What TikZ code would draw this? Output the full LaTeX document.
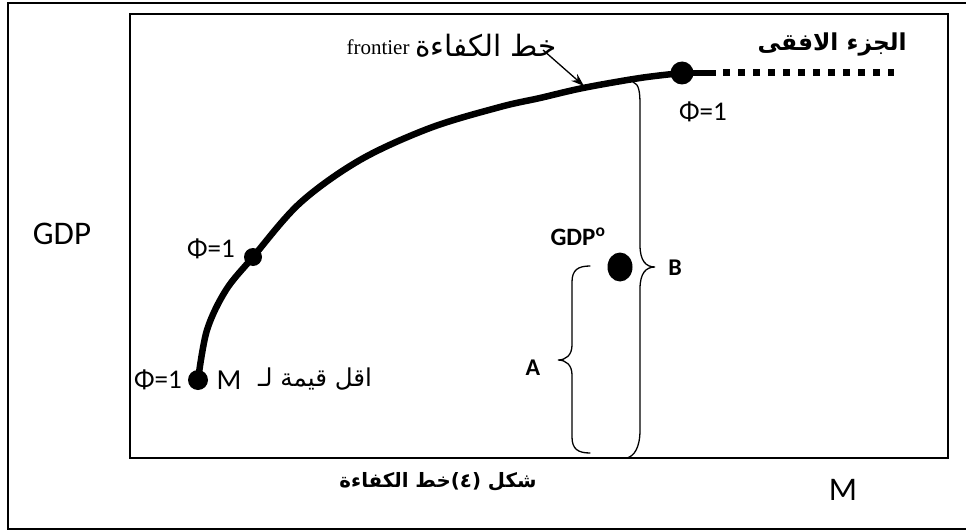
\documentclass[tikz,border=0pt]{standalone}
\usepackage{graphicx}
\usepackage{fontspec}
\setmainfont{Carlito}
\newfontfamily\seriffont{Liberation Serif}
\newfontfamily\arabicfont[Script=Arabic]{DejaVu Sans}
\TeXXeTstate=1
\usetikzlibrary{arrows.meta,shapes.geometric}
\tikzset{
  dot/.style={circle,fill=black,inner sep=0pt},
  lbl/.style={inner sep=0pt,anchor=center},
  bracel/.style={line width=1.3pt,line cap=round},
  frontierline/.style={line width=6.5pt,line cap=round},
}
\begin{document}
\begin{tikzpicture}[x=1pt,y=-1pt]
\useasboundingbox (0,0) rectangle (966,532);
% frames
\draw[line width=2.2pt] (8,3) rectangle (985,529);
\draw[line width=2pt] (130,14) rectangle (948,458);
% dots
\node[dot,minimum size=20pt] (d1) at (198,380) {};
\node[dot,minimum size=18pt] (d2) at (253,257) {};
\node[dot,minimum size=23pt] (d3) at (682,73) {};
\node[ellipse,fill=black,inner sep=0pt,minimum width=25pt,minimum height=29pt] (g0) at (620,267) {};
% frontier curve
\draw[frontierline] plot[smooth,tension=0.55] coordinates {(d1.center) (207,330) (226,290) (d2.center) (300,203) (360,160) (430,128) (500,107) (540,98) (583,88) (640,78) (d3.center)};
% horizontal part
\coordinate (hs) at (716,73);
\coordinate (ds) at (723,73);
\coordinate (de) at (894,73);
\draw[line width=6pt] (d3.center) -- (hs);
\draw[line width=7pt,dash pattern=on 7pt off 8pt] (ds) -- (de);
% labels
\node[lbl] (gdp) at (62,234) {\fontsize{33}{36}\selectfont GDP};
\node[lbl] (mx) at (843,490) {\fontsize{33}{36}\selectfont M};
\node[lbl] (p1) at (158,380) {\fontsize{27}{30}\selectfont Φ=1};
\node[lbl] (p2) at (211,249) {\fontsize{27}{30}\selectfont Φ=1};
\node[lbl] (p3) at (703,112) {\fontsize{27}{30}\selectfont Φ=1};
\node[lbl] (mmin) at (229,380) {\fontsize{29}{32}\selectfont M};
\node[lbl] (amin) at (315,379) {\resizebox{114pt}{!}{\fontsize{26}{30}\selectfont\arabicfont\beginR اقل قيمة لـ\endR}};
\node[lbl] (hz) at (832,44) {\resizebox{149pt}{!}{\fontsize{25}{28}\selectfont\arabicfont\bfseries\beginR الجزء الافقى\endR}};
\node[lbl] (fr) at (378,47) {\fontsize{21}{24}\selectfont\seriffont frontier};
\node[lbl] (fra) at (486,46) {\resizebox{142pt}{!}{\fontsize{30}{34}\selectfont\arabicfont\beginR خط الكفاءة\endR}};
\node[lbl] (cap) at (438,482) {\resizebox{197pt}{!}{\fontsize{21}{24}\selectfont\arabicfont\bfseries\beginR شكل (٤)خط الكفاءة\endR}};
\node[lbl] (gl) at (578,237) {\fontsize{25}{28}\selectfont\bfseries GDP\textsuperscript{o}};
\node[lbl] (la) at (533,368) {\fontsize{24}{26}\selectfont\bfseries A};
\node[lbl] (lb) at (675,268) {\fontsize{24}{26}\selectfont\bfseries B};
% arrow
\coordinate (as) at (543,50);
\coordinate (ae) at (584,86);
\draw[line width=1.3pt,-{Stealth[length=13pt,width=9pt]}] (as) -- (ae);
% brace B
\coordinate (Btop) at (633,82);
\coordinate (Btip) at (655,267);
\coordinate (Bbot) at (627,458);
\draw[bracel] (Btop) .. controls (639,84) and (640,92) .. (640,105) -- (640,245) .. controls (640,261) and (646,267) .. (Btip) .. controls (646,267) and (640,273) .. (640,289) -- (640,430) .. controls (640,448) and (634,456) .. (Bbot);
% brace A
\coordinate (Atop) at (590,266);
\coordinate (Atip) at (558,360);
\coordinate (Abot) at (590,453);
\draw[bracel] (Atop) .. controls (578,266) and (572,270) .. (572,282) -- (572,345) .. controls (572,355) and (566,360) .. (Atip) .. controls (566,360) and (572,365) .. (572,375) -- (572,437) .. controls (572,449) and (578,453) .. (Abot);
\end{tikzpicture}
\end{document}
